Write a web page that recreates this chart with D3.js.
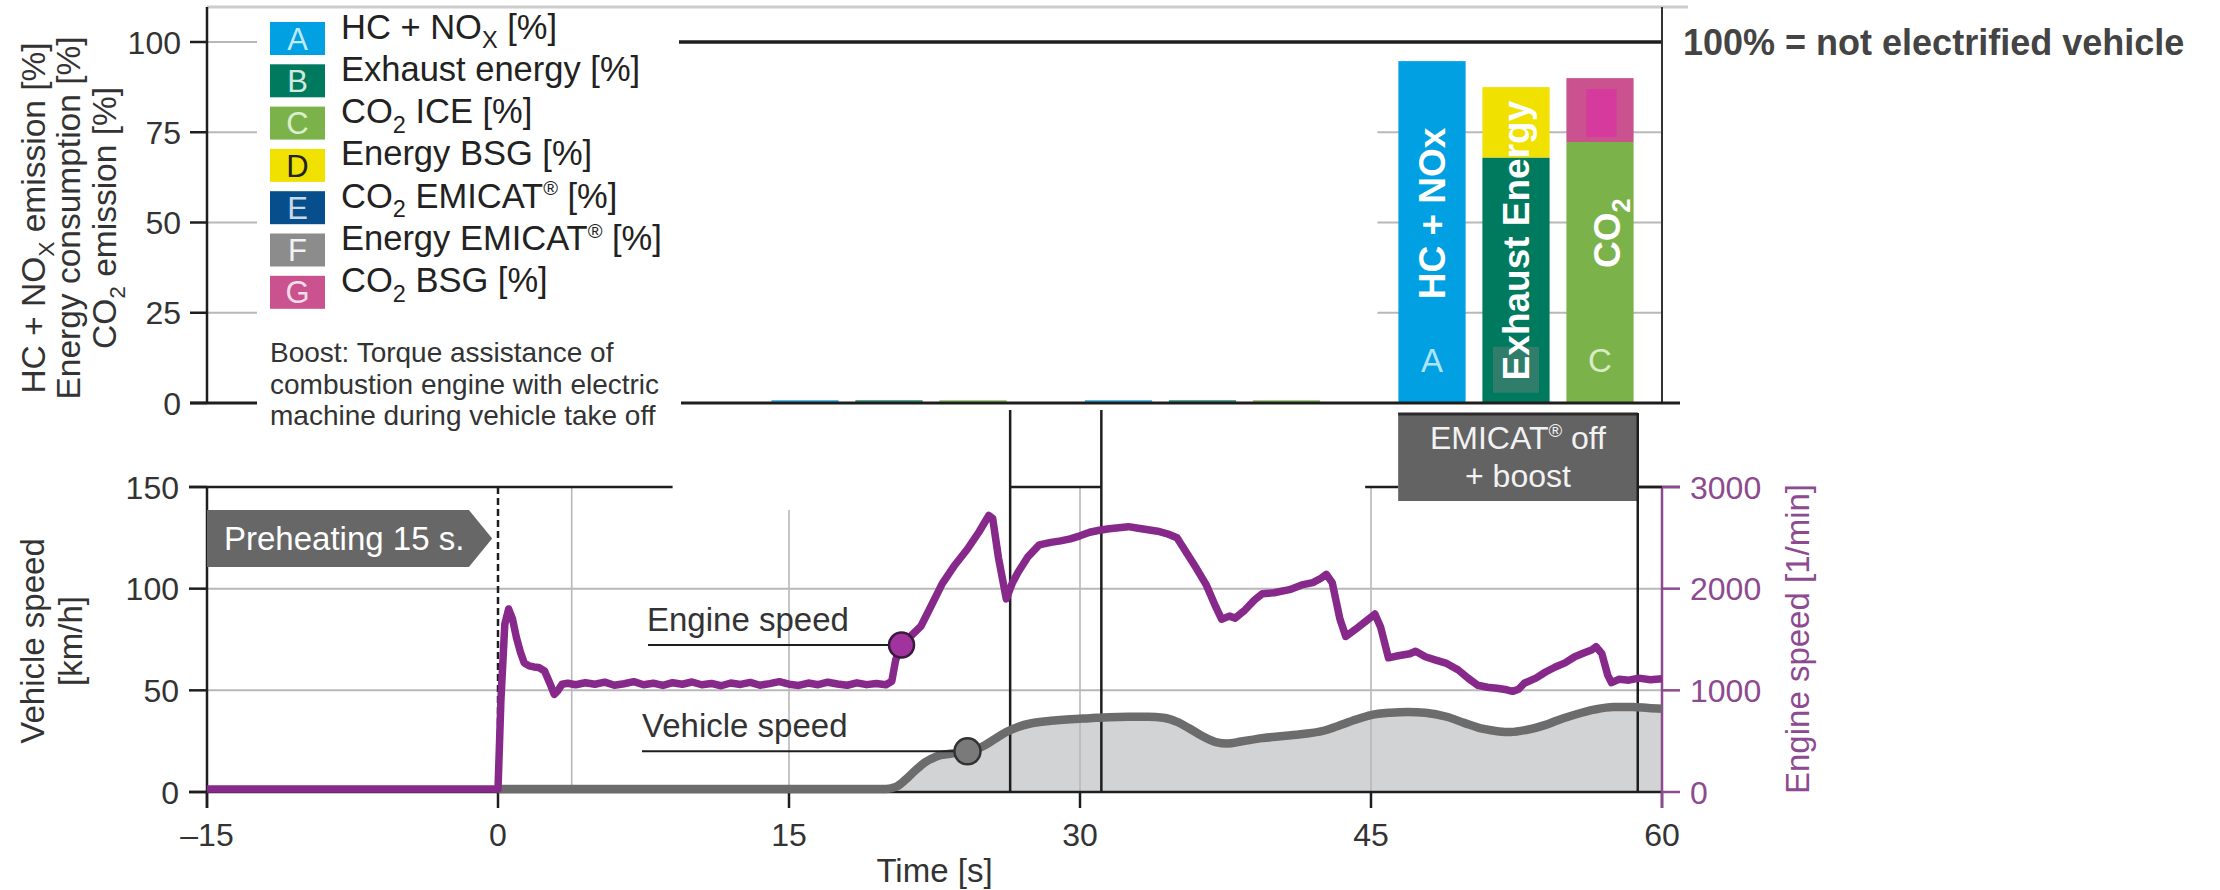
<!DOCTYPE html>
<html>
<head>
<meta charset="utf-8">
<script src="https://cdn.jsdelivr.net/npm/d3@7"></script>
<style>
  html, body { margin: 0; padding: 0; background: #fff; }
  svg { display: block; font-family: "Liberation Sans", Arial, Helvetica, sans-serif; }
</style>
</head>
<body>
<svg id="chart" width="2220" height="890"></svg>
<script>
// ---------- bar chart data (share of a non-electrified vehicle, %) ----------
const groups = ["g1", "g2", "g3"];
const hcNox         = [0.8, 0.8, 94.7];
const exhaustEnergy = [0.8, 0.8, 68.0];
const energyBsg     = [0.0, 0.0, 19.5];
const co2Ice        = [0.8, 0.8, 72.3];
const co2Bsg        = [0.0, 0.0, 17.7];

// ---------- legend ----------
const legendLetters = ["A", "B", "C", "D", "E", "F", "G"];
const legendLabels = [
  "HC + NO_{X} [%]",
  "Exhaust energy [%]",
  "CO_{2} ICE [%]",
  "Energy BSG [%]",
  "CO_{2} EMICAT^{®} [%]",
  "Energy EMICAT^{®} [%]",
  "CO_{2} BSG [%]"
];
const legendColors = ["#00a0e3", "#007a5e", "#7bb34a", "#f0e100", "#064f8c", "#8c8c8c", "#c9528f"];
const legendLetterColors = ["#bfeafb", "#cfe9df", "#dcefcd", "#222222", "#c9d8ea", "#f2f2f2", "#f6dbe9"];

// ---------- axis ticks ----------
const pctTicks = [0, 25, 50, 75, 100];
const speedTicks = [0, 50, 100, 150];
const rpmTicks = [0, 1000, 2000, 3000];
const timeTicks = [-15, 0, 15, 30, 45, 60];
const timeTickLabels = ["–15", "0", "15", "30", "45", "60"];
const timeGrid = [3.8, 15, 30, 45];

// ---------- time series ----------
const engineTime = [-15, 0, 0.15, 0.35, 0.55, 0.75, 0.95, 1.15, 1.35, 1.6, 1.85, 2.1, 2.4, 2.65, 2.9, 3.1, 3.3, 3.6,
  4.0, 4.5, 5.0, 5.5, 6.0, 6.5, 7.0, 7.5, 8.0, 8.5, 9.0, 9.5, 10, 10.5, 11, 11.5, 12, 12.5, 13, 13.5, 14, 14.5,
  15, 15.5, 16, 16.5, 17, 17.5, 18, 18.5, 19, 19.5, 20.0, 20.3, 20.5, 20.8, 21.2, 21.8, 22.3, 22.9, 23.5, 24.2,
  24.8, 25.3, 25.5, 25.8, 26.2, 26.5, 26.8, 27.3, 27.9, 28.5, 29.0, 29.5, 30.0, 30.5, 31.0, 31.5, 32.0, 32.5,
  33.0, 33.5, 34.0, 34.5, 35.0, 35.5, 36.0, 36.5, 37.0, 37.3, 37.7, 38.0, 38.5, 39.0, 39.4, 40.0, 40.8, 41.5,
  42.0, 42.4, 42.7, 43.0, 43.4, 43.7, 44.2, 44.8, 45.2, 45.5, 45.9, 46.4, 47.0, 47.3, 47.8, 48.3, 48.9, 49.5,
  50.0, 50.5, 51.0, 51.5, 52.0, 52.3, 52.6, 52.9, 53.5, 54.0, 54.5, 55.0, 55.5, 56.0, 56.4, 56.6, 56.9, 57.2,
  57.4, 57.8, 58.3, 58.8, 59.4, 60];
const engineRpm = [30, 30, 900, 1650, 1800, 1700, 1520, 1380, 1270, 1240, 1230, 1225, 1190, 1080, 960, 1000, 1060, 1070,
  1055, 1075, 1060, 1080, 1050, 1065, 1085, 1055, 1070, 1048, 1075, 1060, 1082, 1055, 1068, 1045, 1072, 1058, 1078, 1050, 1066, 1085,
  1060, 1048, 1072, 1055, 1080, 1062, 1050, 1074, 1056, 1068, 1055, 1090, 1300, 1445, 1520, 1630, 1820, 2050, 2220, 2390,
  2560, 2720, 2690, 2300, 1900, 2050, 2160, 2310, 2430, 2455, 2470, 2490, 2520, 2555, 2575, 2590, 2600, 2610,
  2595, 2580, 2565, 2540, 2500, 2350, 2200, 2040, 1820, 1700, 1730, 1710, 1790, 1890, 1950, 1960, 1990, 2040,
  2060, 2100, 2140, 2060, 1700, 1530, 1600, 1690, 1750, 1620, 1320, 1340, 1360, 1385, 1330, 1300, 1265, 1200,
  1120, 1050, 1030, 1020, 1005, 990, 1010, 1070, 1120, 1180, 1230, 1270, 1330, 1370, 1400, 1430, 1360, 1150,
  1075, 1110, 1100, 1120, 1105, 1115];

const vehicleTime = [0, 5, 10, 15, 20.0, 20.5, 21.0, 21.5, 22.0, 22.6, 23.3, 24.2, 25.0, 25.6, 26.2, 26.8, 27.5, 28.5,
  29.5, 30.5, 31.5, 32.5, 33.5, 34.3, 35.0, 35.6, 36.3, 37.0, 37.6, 38.3, 39.4, 40.5, 41.5, 42.5, 43.3, 44.2, 45.0,
  46.0, 46.9, 47.8, 48.9, 49.8, 50.8, 51.6, 52.2, 53.0, 54.0, 54.6, 55.5, 56.5, 57.5, 58.5, 59.3, 60];
const vehicleKmh = [1.5, 1.5, 1.5, 1.5, 1.5, 2.5, 6, 10.5, 14.5, 17.5, 18.8, 20, 22.5, 26, 29.5, 32, 33.8, 35,
  35.8, 36.3, 36.8, 37, 37, 36.5, 34.5, 31.5, 27.5, 24.5, 23.8, 24.8, 26.5, 27.5, 28.5, 30, 32.5, 35.5, 37.8,
  39, 39.4, 39, 37, 34, 31, 29.8, 29.5, 30.5, 33, 35.2, 38, 40.5, 41.8, 41.8, 41.3, 41];

// phases and events on the time axis (s)
const preheatStart = -15, preheatEnd = 0;
const eventTimes = [26.4, 31.1];
const boostStart = 46.4, boostEnd = 58.75;
const engineMarkerTime = 20.8, vehicleMarkerTime = 24.2;

// ---------- layout & scales ----------
const svg = d3.select("#chart");
const L = 207, R = 1662;
const xT = d3.scaleLinear().domain([-15, 60]).range([L, R]);
const yPct = d3.scaleLinear().domain([0, 100]).range([403, 42]);
const yKmh = d3.scaleLinear().domain([0, 150]).range([792, 487]);
const yRpm = d3.scaleLinear().domain([0, 3000]).range([792, 487]);

const xGroup = d3.scaleBand().domain(groups).range([732.25, 1672.75]);
const xInner = d3.scaleBand().domain(["A", "B", "C"]).range([-126, 126]).paddingInner(0.2).paddingOuter(0.1);

const INK = "#1e1e1e";
const GRID = "#b8b8b8";
const PURPLE = "#87298b";
const PURPLE_AXIS = "#8d4a90";

function addRich(textSel, str, size) {
  const parts = str.split(/(_\{[^}]*\}|\^\{[^}]*\})/).filter(p => p !== "");
  let shift = 0;
  parts.forEach(p => {
    let target = 0, s = size, t = p;
    if (p.startsWith("_{")) { target = size * 0.28; s = size * 0.68; t = p.slice(2, -1); }
    else if (p.startsWith("^{")) { target = -size * 0.36; s = size * 0.58; t = p.slice(2, -1); }
    textSel.append("tspan").attr("dy", target - shift).attr("font-size", s).text(t);
    shift = target;
  });
}
function seg(g, x1, y1, x2, y2, stroke, w) {
  return g.append("line").attr("x1", x1).attr("y1", y1).attr("x2", x2).attr("y2", y2)
    .attr("stroke", stroke).attr("stroke-width", w);
}

// =================== upper panel: bar chart ===================
const upper = svg.append("g");
seg(upper, L, 7, 1688, 7, "#cccccc", 3);

// gridlines
pctTicks.filter(v => v > 0).forEach(v => seg(upper, L, yPct(v), R, yPct(v), GRID, 2));
// blank area behind legend and empty groups
upper.append("rect").attr("x", 257).attr("y", 12)
  .attr("width", xGroup("g3") + xGroup.bandwidth() / 2 + xInner("A") - 21 - 257).attr("height", 386).attr("fill", "#fff");
// 100 % reference line
seg(upper, 679, yPct(100), R, yPct(100), INK, 3.5);

// stacked bars
const columns = [
  { key: "A", segs: [{ vals: hcNox, color: legendColors[0] }] },
  { key: "B", segs: [{ vals: exhaustEnergy, color: legendColors[1] }, { vals: energyBsg, color: legendColors[3] }] },
  { key: "C", segs: [{ vals: co2Ice, color: legendColors[2] }, { vals: co2Bsg, color: legendColors[6], inner: "#d63a9c" }] }
];
const bw = xInner.bandwidth();
groups.forEach((g, gi) => {
  const gc = xGroup(g) + xGroup.bandwidth() / 2;
  columns.forEach(col => {
    let base = 0;
    const x0 = gc + xInner(col.key);
    col.segs.forEach(sg => {
      const v = sg.vals[gi];
      if (v > 0) {
        upper.append("rect").attr("x", x0).attr("y", yPct(base + v)).attr("width", bw)
          .attr("height", yPct(base) - yPct(base + v)).attr("fill", sg.color)
          .attr("opacity", v < 2 ? 0.75 : 1);
        if (sg.inner && v > 5) {
          upper.append("rect").attr("x", x0 + 20).attr("y", yPct(base + v) + 11).attr("width", bw - 37)
            .attr("height", yPct(base) - yPct(base + v) - 16).attr("fill", sg.inner);
        }
      }
      base += v;
    });
  });
});

// labels inside the tall bars
const g3c = xGroup("g3") + xGroup.bandwidth() / 2;
const cA = g3c + xInner("A") + bw / 2, cB = g3c + xInner("B") + bw / 2, cC = g3c + xInner("C") + bw / 2;
upper.append("rect").attr("x", cB - 23).attr("y", yPct(9.2) - 23).attr("width", 46).attr("height", 46).attr("fill", "#2f7d6a");
upper.append("text").attr("x", cA).attr("y", yPct(12)).attr("dy", "0.36em").attr("text-anchor", "middle")
  .attr("font-size", 33).attr("fill", "#aee4f9").text("A");
upper.append("text").attr("x", cC).attr("y", yPct(12)).attr("dy", "0.36em").attr("text-anchor", "middle")
  .attr("font-size", 33).attr("fill", "#d7ecc4").text("C");

function barTitle(cx, cyVal, str) {
  const t = upper.append("text").attr("transform", `translate(${cx + 13},${yPct(cyVal)}) rotate(-90)`)
    .attr("text-anchor", "middle").attr("font-size", 37).attr("font-weight", "bold").attr("fill", "#fff");
  addRich(t, str, 37);
}
barTitle(cA, 52.5, "HC + NOx");
barTitle(cB, 45, "Exhaust Energy");
barTitle(cC + 7, 47, "CO_{2}");

// axes of the upper panel
seg(upper, L, 7, L, yPct(0), INK, 2.5);
seg(upper, R, 7, R, yPct(0), "#333", 2);
pctTicks.forEach(v => {
  seg(upper, 190, yPct(v), L, yPct(v), INK, 2.5);
  upper.append("text").attr("x", 181).attr("y", yPct(v)).attr("dy", "0.36em").attr("text-anchor", "end")
    .attr("font-size", 32).attr("fill", "#333").text(v);
});
seg(upper, 190, yPct(0), 257, yPct(0), INK, 3);
seg(upper, 681, yPct(0), 1680, yPct(0), INK, 3);

// rotated y title (three lines)
const tt = upper.append("text").attr("transform", `translate(0,218) rotate(-90)`)
  .attr("text-anchor", "middle").attr("font-size", 33.5).attr("fill", "#333");
const t1 = tt.append("tspan").attr("x", 0).attr("y", 45); addRich(t1, "HC + NO_{X} emission [%]", 33.5);
tt.append("tspan").attr("x", 0).attr("y", 80).text("Energy consumption [%]");
const t3 = tt.append("tspan").attr("x", 0).attr("y", 116); addRich(t3, "CO_{2} emission [%]", 33.5);

// legend
const leg = svg.append("g");
legendLetters.forEach((k, i) => {
  const yy = 22 + i * 42.3;
  leg.append("rect").attr("x", 270).attr("y", yy).attr("width", 55).attr("height", 33).attr("fill", legendColors[i]);
  leg.append("text").attr("x", 297.5).attr("y", yy + 16.5).attr("dy", "0.36em").attr("text-anchor", "middle")
    .attr("font-size", 31).attr("fill", legendLetterColors[i]).text(k);
  const t = leg.append("text").attr("x", 341).attr("y", yy + 16.5).attr("dy", "0.36em")
    .attr("font-size", 34.5).attr("fill", "#222");
  addRich(t, legendLabels[i], 34.5);
});
["Boost: Torque assistance of", "combustion engine with electric", "machine during vehicle take off"]
  .forEach((s, i) => leg.append("text").attr("x", 270).attr("y", 362 + i * 31.5)
    .attr("font-size", 28).attr("fill", "#333").text(s));

// reference note
svg.append("text").attr("x", 1683).attr("y", yPct(100) + 13).attr("font-size", 36).attr("font-weight", "bold")
  .attr("fill", "#444").text("100% = not electrified vehicle");

// =================== lower panel: speed traces ===================
const bot = svg.append("g");

// vehicle speed area
const vehData = vehicleTime.map((t, i) => [t, vehicleKmh[i]]);
bot.append("path").datum(vehData)
  .attr("d", d3.area().x(d => xT(d[0])).y0(yKmh(0)).y1(d => yKmh(d[1])).curve(d3.curveMonotoneX))
  .attr("fill", "#d2d3d5");

// gridlines
[50, 100].forEach(v => seg(bot, L, yKmh(v), R, yKmh(v), GRID, 2));
timeGrid.forEach(t => seg(bot, xT(t), yKmh(150), xT(t), yKmh(0), GRID, 1.6));
bot.append("rect").attr("x", xT(9.0)).attr("y", 480).attr("width", xT(26.1) - xT(9.0)).attr("height", 30).attr("fill", "#fff");

// frame pieces at the top edge
[[-15, 9.0], [eventTimes[0], eventTimes[1]], [44.7, boostStart]].forEach(s =>
  seg(bot, s[0] === -15 ? 189 : xT(s[0]), yKmh(150), xT(s[1]), yKmh(150), INK, 2.5));
seg(bot, xT(boostEnd), yKmh(150), 1680, yKmh(150), INK, 2.5);

// event markers
eventTimes.forEach(t => seg(bot, xT(t), 410, xT(t), yKmh(0), INK, 2.5));
seg(bot, xT(0), yKmh(150), xT(0), yKmh(0), INK, 2.5).attr("stroke-dasharray", "7,4");

// axes
seg(bot, 189, yKmh(0), R, yKmh(0), INK, 2.5);
timeTicks.forEach((t, i) => {
  seg(bot, xT(t), yKmh(0), xT(t), 808, INK, 2.5);
  bot.append("text").attr("x", xT(t)).attr("y", 846).attr("text-anchor", "middle")
    .attr("font-size", 32).attr("fill", "#333").text(timeTickLabels[i]);
});
seg(bot, L, yKmh(150), L, 808, INK, 2.5);
speedTicks.forEach(v => {
  seg(bot, 189, yKmh(v), L, yKmh(v), INK, 2.5);
  bot.append("text").attr("x", 179).attr("y", yKmh(v)).attr("dy", "0.36em").attr("text-anchor", "end")
    .attr("font-size", 32).attr("fill", "#333").text(v);
});
seg(bot, R, yRpm(3000), R, 808, PURPLE_AXIS, 2.5);
rpmTicks.forEach(v => {
  seg(bot, R, yRpm(v), 1680, yRpm(v), PURPLE_AXIS, 2.5);
  bot.append("text").attr("x", 1690).attr("y", yRpm(v)).attr("dy", "0.36em")
    .attr("font-size", 32).attr("fill", PURPLE_AXIS).text(v);
});
seg(bot, R - 25, yRpm(3000), R, yRpm(3000), INK, 2.5);

// axis titles
bot.append("text").attr("x", xT(22.5)).attr("y", 882).attr("text-anchor", "middle")
  .attr("font-size", 33).attr("fill", "#333").text("Time [s]");
const vt = bot.append("text").attr("transform", "translate(0,641) rotate(-90)")
  .attr("text-anchor", "middle").attr("font-size", 33).attr("fill", "#333");
vt.append("tspan").attr("x", 0).attr("y", 44).text("Vehicle speed");
vt.append("tspan").attr("x", 0).attr("y", 82).text("[km/h]");
bot.append("text").attr("transform", "translate(1809,639) rotate(-90)")
  .attr("text-anchor", "middle").attr("font-size", 33).attr("fill", PURPLE_AXIS).text("Engine speed [1/min]");

// preheating phase arrow
const py0 = 510, py1 = 567;
bot.append("path").attr("d",
  `M${xT(preheatStart)},${py0} L${xT(preheatEnd - 1.5)},${py0} L${xT(preheatEnd - 0.3)},${(py0 + py1) / 2} L${xT(preheatEnd - 1.5)},${py1} L${xT(preheatStart)},${py1} Z`)
  .attr("fill", "#676767");
bot.append("text").attr("x", xT(preheatStart) + 17).attr("y", (py0 + py1) / 2).attr("dy", "0.36em")
  .attr("font-size", 33).attr("fill", "#fff").text("Preheating 15 s.");

// EMICAT off + boost phase
bot.append("rect").attr("x", xT(boostStart)).attr("y", 413).attr("width", xT(boostEnd) - xT(boostStart))
  .attr("height", 88).attr("fill", "#636363");
seg(bot, xT(boostStart), 414, xT(boostEnd), 414, "#2a2a2a", 3);
seg(bot, xT(boostEnd), 413, xT(boostEnd), yKmh(0), INK, 2.5);
const bx = (xT(boostStart) + xT(boostEnd)) / 2;
const bt = bot.append("text").attr("x", bx).attr("y", 449).attr("text-anchor", "middle")
  .attr("font-size", 32).attr("fill", "#f2f2f2");
addRich(bt, "EMICAT^{®} off", 32);
bot.append("text").attr("x", bx).attr("y", 487).attr("text-anchor", "middle")
  .attr("font-size", 32).attr("fill", "#f2f2f2").text("+ boost");

// traces
bot.append("path").datum(vehData)
  .attr("d", d3.line().x(d => xT(d[0])).y(d => yKmh(d[1])).curve(d3.curveMonotoneX))
  .attr("fill", "none").attr("stroke", "#6c6c6c").attr("stroke-width", 8.5).attr("stroke-linejoin", "round");
const engData = engineTime.map((t, i) => [t, engineRpm[i]]);
bot.append("path").datum(engData)
  .attr("d", d3.line().x(d => xT(d[0])).y(d => yRpm(d[1])))
  .attr("fill", "none").attr("stroke", PURPLE).attr("stroke-width", 7.5).attr("stroke-linejoin", "round");

// callouts
function valueAt(ts, vs, t) {
  const i = d3.bisectLeft(ts, t);
  if (ts[i] === t) return vs[i];
  const f = (t - ts[i - 1]) / (ts[i] - ts[i - 1]);
  return vs[i - 1] + f * (vs[i] - vs[i - 1]);
}
const ex = xT(engineMarkerTime), ey = yRpm(valueAt(engineTime, engineRpm, engineMarkerTime));
const vx = xT(vehicleMarkerTime), vy = yKmh(valueAt(vehicleTime, vehicleKmh, vehicleMarkerTime));
seg(bot, 648, ey, ex, ey, INK, 2);
seg(bot, 642, vy, vx, vy, INK, 2);
bot.append("circle").attr("cx", ex).attr("cy", ey).attr("r", 12.5).attr("fill", "#a1339e").attr("stroke", "#3b1a3b").attr("stroke-width", 2.5);
bot.append("circle").attr("cx", vx).attr("cy", vy).attr("r", 13).attr("fill", "#7a7a7a").attr("stroke", "#333").attr("stroke-width", 2.5);
bot.append("text").attr("x", 647).attr("y", ey - 14).attr("font-size", 33).attr("fill", "#333").text("Engine speed");
bot.append("text").attr("x", 642).attr("y", vy - 14).attr("font-size", 33).attr("fill", "#333").text("Vehicle speed");
</script>
</body>
</html>
